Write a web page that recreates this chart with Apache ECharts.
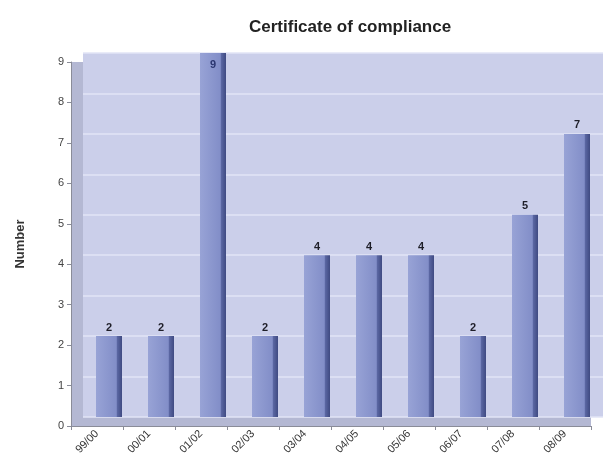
<!DOCTYPE html>
<html>
<head>
<meta charset="utf-8">
<script src="https://cdn.jsdelivr.net/npm/echarts@6/dist/echarts.min.js"></script>
<style>
  html, body { margin: 0; padding: 0; background: #ffffff; }
  #chart { width: 604px; height: 469px; }
</style>
</head>
<body>
<div id="chart"></div>
<script>
// Certificates of compliance issued per financial year
const categories = ['99/00', '00/01', '01/02', '02/03', '03/04', '04/05', '05/06', '06/07', '07/08', '08/09'];
const counts = [2, 2, 9, 2, 4, 4, 4, 2, 5, 7];
const yMin = 0;
const yMax = 9;
const yStep = 1;

const chart = echarts.init(document.getElementById('chart'));

// Bar face: lighter body with a dark right edge for a solid look
const barFill = {
  type: 'linear', x: 0, y: 0, x2: 1, y2: 0,
  colorStops: [
    { offset: 0, color: '#98a3d6' },
    { offset: 0.78, color: '#828ec8' },
    { offset: 0.82, color: '#5a66a2' },
    { offset: 1, color: '#3f4a82' }
  ]
};

const barData = counts.map(function (v) {
  if (v === yMax) {
    // the tallest bar carries its label just inside its top
    return { value: v, label: { position: 'insideTop', distance: 6, color: '#2b3670' } };
  }
  return v;
});

chart.setOption({
  animation: false,
  title: {
    text: 'Certificate of compliance',
    left: 244,
    top: 14,
    textStyle: { fontFamily: 'Liberation Sans', fontWeight: 'bold', fontSize: 17, color: '#222' }
  },
  grid: [
    // front frame: side wall and floor
    { left: 71, right: 13, top: 62, bottom: 43, show: true, backgroundColor: '#b4b8d3', borderWidth: 0 },
    // back wall carrying the bars
    { left: 83, right: 1, top: 53, bottom: 52, show: true, backgroundColor: '#cbcfea', borderWidth: 0 }
  ],
  xAxis: [
    {
      gridIndex: 0,
      type: 'category',
      data: categories,
      axisLine: { lineStyle: { color: '#8a8c98' } },
      axisTick: { show: true, alignWithLabel: false, length: 4, lineStyle: { color: '#8a8c98' } },
      axisLabel: { rotate: 45, margin: 6, fontFamily: 'Liberation Sans', fontSize: 11, color: '#333' }
    },
    {
      gridIndex: 1,
      type: 'category',
      data: categories,
      show: false
    }
  ],
  yAxis: [
    {
      gridIndex: 0,
      type: 'value',
      min: yMin, max: yMax, interval: yStep,
      name: 'Number',
      nameLocation: 'middle',
      nameGap: 44,
      nameRotate: 90,
      nameTextStyle: { fontFamily: 'Liberation Sans', fontWeight: 'bold', fontSize: 13, color: '#333' },
      axisLine: { show: true, lineStyle: { color: '#8a8c98' } },
      axisTick: { show: true, length: 4, lineStyle: { color: '#8a8c98' } },
      axisLabel: { margin: 7, fontFamily: 'Liberation Sans', fontSize: 11, color: '#444' },
      splitLine: { show: false }
    },
    {
      gridIndex: 1,
      type: 'value',
      min: yMin, max: yMax, interval: yStep,
      axisLine: { show: false },
      axisTick: { show: false },
      axisLabel: { show: false },
      splitLine: { show: true, lineStyle: { color: '#e2e5f6', width: 1.5 } }
    }
  ],
  series: [
    {
      type: 'bar',
      xAxisIndex: 1,
      yAxisIndex: 1,
      data: barData,
      barWidth: 26,
      itemStyle: { color: barFill },
      label: {
        show: true,
        position: 'top',
        distance: 3,
        fontFamily: 'Liberation Sans',
        fontWeight: 'bold',
        fontSize: 11,
        color: '#1e1e28'
      }
    }
  ]
});
</script>
</body>
</html>
